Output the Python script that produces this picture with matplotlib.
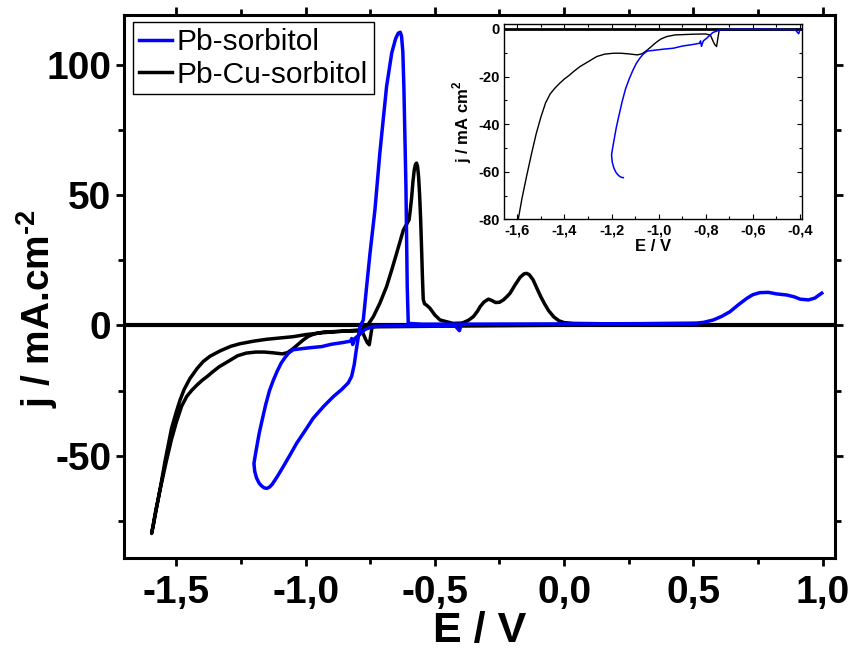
import matplotlib
matplotlib.use("Agg")
import matplotlib.pyplot as plt
from matplotlib.ticker import MultipleLocator, FuncFormatter

plt.rcParams["axes.unicode_minus"] = False
plt.rcParams["mathtext.fontset"] = "custom"
plt.rcParams["mathtext.rm"] = "Liberation Sans:bold"
plt.rcParams["mathtext.bf"] = "Liberation Sans:bold"

# ---- Pb-sorbitol (blue): cathodic sweep then anodic sweep ----
pb_cat_E = [-0.40, -0.405, -0.42, -0.5, -0.6, -0.7, -0.74, -0.77, -0.796, -0.81, -0.818,
            -0.822, -0.826, -0.853, -0.9, -0.938, -0.98, -1.023, -1.048, -1.065, -1.08,
            -1.095, -1.11, -1.125, -1.14, -1.155, -1.17, -1.18, -1.19, -1.197, -1.2]
pb_cat_j = [-0.3, -2.0, -0.3, -0.2, -0.1, -0.2, -0.4, -1.5, -3.9, -5.0, -7.3,
            -5.0, -6.0, -6.5, -7.2, -8.1, -8.5, -9.0, -9.3, -10.5, -12.3,
            -14.5, -17.5, -21.0, -25.0, -30.5, -37.0, -41.5, -47.0, -51.0, -53.0]
pb_an_E = [-1.2, -1.197, -1.19, -1.18, -1.17, -1.16, -1.15, -1.14, -1.13, -1.11,
           -1.087, -1.06, -1.035, -1.0, -0.971, -0.93, -0.893, -0.86, -0.835, -0.822,
           -0.812, -0.805, -0.798, -0.79, -0.777, -0.765, -0.751, -0.732, -0.713, -0.687,
           -0.667, -0.652, -0.642, -0.634, -0.629, -0.624, -0.62, -0.612, -0.607, -0.603,
           -0.55, -0.4, 0.0, 0.3, 0.5, 0.54, 0.577, 0.61, 0.642, 0.675, 0.707, 0.73,
           0.758, 0.79, 0.823, 0.861, 0.89, 0.913, 0.945, 0.97, 0.997]
pb_an_j = [-53.0, -56.0, -58.5, -60.5, -61.6, -62.3, -62.5, -62.0, -61.0, -58.0,
           -54.2, -49.6, -45.2, -40.0, -35.6, -31.0, -27.3, -24.5, -22.0, -19.5,
           -15.0, -10.0, -5.5, -0.5, 2.1, 14.0, 27.7, 44.3, 66.1, 91.6,
           104.5, 110.0, 112.1, 112.5, 111.0, 105.0, 91.6, 53.3, 14.9, 0.8,
           0.5, 0.5, 0.6, 0.7, 0.8, 1.2, 2.1, 3.5, 5.3, 8.0, 10.4, 11.8,
           12.6, 12.7, 12.1, 11.7, 11.0, 10.1, 9.8, 10.5, 12.4]

# ---- Pb-Cu-sorbitol (black) ----
pbcu_cat_E = [0.5, 0.0, -0.4, -0.6, -0.72, -0.743, -0.754, -0.762, -0.768, -0.78, -0.80,
              -0.853, -0.93, -0.966, -0.99, -1.01, -1.03, -1.05, -1.07, -1.09, -1.125,
              -1.16, -1.193, -1.23, -1.263, -1.30, -1.334, -1.36, -1.38, -1.40, -1.42,
              -1.44, -1.46, -1.48, -1.50, -1.52, -1.54, -1.56, -1.58, -1.596]
pbcu_cat_j = [0.3, 0.1, -0.2, -0.4, -0.5, -0.6, -7.4, -6.5, -5.3, -2.6, -2.1,
              -2.2, -2.5, -3.2, -4.2, -5.6, -7.3, -9.0, -10.4, -10.9, -10.5,
              -10.2, -10.2, -10.6, -11.6, -13.8, -15.8, -17.8, -19.5, -21.0, -22.8,
              -24.8, -27.2, -31.0, -37.0, -44.0, -52.5, -61.5, -71.0, -79.8]
pbcu_an_E = [-1.596, -1.59, -1.575, -1.56, -1.544, -1.53, -1.519, -1.50, -1.486, -1.47,
             -1.448, -1.42, -1.396, -1.37, -1.332, -1.29, -1.254, -1.2, -1.151, -1.1,
             -1.048, -1.0, -0.945, -0.9, -0.841, -0.79, -0.775, -0.764, -0.738, -0.713,
             -0.687, -0.667, -0.648, -0.622, -0.60, -0.596, -0.59, -0.585, -0.58, -0.575,
             -0.571, -0.567, -0.563, -0.559, -0.555, -0.551, -0.548, -0.545, -0.54, -0.532,
             -0.519, -0.50, -0.48, -0.43, -0.40, -0.39, -0.37, -0.351, -0.335, -0.325,
             -0.31, -0.293, -0.28, -0.265, -0.25, -0.235, -0.22, -0.209, -0.19, -0.17,
             -0.155, -0.145, -0.135, -0.12, -0.105, -0.09, -0.075, -0.06, -0.04, -0.02,
             0.0, 0.036, 0.2, 0.5]
pbcu_an_j = [-79.8, -77.0, -69.0, -61.0, -52.0, -45.0, -39.5, -33.0, -28.6, -24.5,
             -20.4, -16.5, -13.8, -11.8, -9.8, -8.0, -7.0, -6.0, -5.3, -4.8,
             -4.3, -3.5, -2.9, -2.5, -2.1, -1.7, -1.0, -0.5, 3.4, 8.5,
             14.9, 21.3, 27.7, 36.6, 40.5, 43.5, 49.0, 55.0, 59.5, 61.8,
             62.3, 61.0, 57.0, 50.0, 40.5, 28.0, 18.0, 10.0, 8.3, 7.8,
             6.6, 4.0, 2.1, 0.8, 0.9, 1.1, 2.0, 3.4, 5.5, 7.2,
             9.0, 10.1, 9.6, 8.8, 8.9, 9.8, 11.2, 12.4, 15.5, 18.5,
             19.8, 20.0, 19.5, 17.5, 14.2, 11.0, 8.2, 5.7, 3.3, 1.8,
             1.1, 0.8, 0.6, 0.8]

labels = ["Pb-sorbitol", "Pb-Cu-sorbitol"]
main_xticks = [-1.5, -1.0, -0.5, 0.0, 0.5, 1.0]
main_yticks = [-50, 0, 50, 100]
inset_xticks = [-1.6, -1.4, -1.2, -1.0, -0.8, -0.6, -0.4]
inset_yticks = [-80, -60, -40, -20, 0]

BLUE = "#0000ff"
FONT = "Liberation Sans"

def comma(v, pos):
    s = "%.1f" % v
    if s == "-0.0":
        s = "0.0"
    return s.replace(".", ",")

fig = plt.figure(figsize=(8.52, 6.55), dpi=100)
ax = fig.add_axes([0.1455, 0.1481, 0.8345, 0.829])

pb_E = pb_cat_E + pb_an_E
pb_j = pb_cat_j + pb_an_j
pbcu_E = pbcu_cat_E + pbcu_an_E
pbcu_j = pbcu_cat_j + pbcu_an_j

ax.axhline(0, color="black", lw=3.0, zorder=1)
ax.plot(pb_E, pb_j, color=BLUE, lw=2.5, label=labels[0], zorder=3)
ax.plot(pbcu_E, pbcu_j, color="black", lw=2.5, label=labels[1], zorder=2)

ax.set_xlim(-1.703, 1.048)
ax.set_ylim(-89.2, 119.1)
ax.xaxis.set_major_locator(plt.FixedLocator(main_xticks))
ax.xaxis.set_minor_locator(MultipleLocator(0.25))
ax.yaxis.set_major_locator(plt.FixedLocator(main_yticks))
ax.yaxis.set_minor_locator(MultipleLocator(25))
ax.xaxis.set_major_formatter(FuncFormatter(comma))
ax.tick_params(which="both", direction="out", top=True, right=True, width=2)
ax.tick_params(which="major", length=6)
ax.tick_params(which="minor", length=4)
for sp in ax.spines.values():
    sp.set_linewidth(2.2)
for lab in ax.get_xticklabels() + ax.get_yticklabels():
    lab.set_family(FONT)
    lab.set_fontweight("bold")
    lab.set_fontsize(28)
ax.tick_params(axis="x", pad=6)
ax.tick_params(axis="y", pad=3)
ax.set_xlabel("E / V", fontsize=31, fontweight="bold", family=FONT, labelpad=0)
ax.set_ylabel(r"j / mA.cm$^{\text{-2}}$", fontsize=28, fontweight="bold",
              family=FONT)
ax.yaxis.set_label_coords(-0.09, 0.46)

leg = ax.legend(loc="upper left", handlelength=1.1, handletextpad=0.15,
                borderpad=0.2, labelspacing=0.15, fancybox=False, framealpha=1,
                edgecolor="black", bbox_to_anchor=(0.0127, 0.987), borderaxespad=0,
                prop={"family": FONT, "size": 21.5})
leg.get_frame().set_linewidth(1.0)

# ---- inset ----
ins = fig.add_axes([0.5915, 0.6652, 0.3501, 0.2982])
ins.axhline(0, color="black", lw=2.0, zorder=1)
n_turn = 7
ins.plot(pb_cat_E + pb_an_E[:n_turn], pb_cat_j + pb_an_j[:n_turn], color=BLUE, lw=1.1, zorder=3)
ins.plot(pbcu_cat_E, pbcu_cat_j, color="black", lw=1.0, zorder=2)
ins.set_xlim(-1.657, -0.39)
ins.set_ylim(-80, 2.1)
ins.xaxis.set_major_locator(plt.FixedLocator(inset_xticks))
ins.xaxis.set_minor_locator(MultipleLocator(0.1))
ins.yaxis.set_major_locator(plt.FixedLocator(inset_yticks))
ins.yaxis.set_minor_locator(MultipleLocator(10))
ins.xaxis.set_major_formatter(FuncFormatter(comma))
ins.tick_params(which="both", direction="in", top=True, right=True, width=0.8,
                labelsize=10.5, pad=3)
ins.tick_params(which="major", length=3.5)
ins.tick_params(which="minor", length=2)
for sp in ins.spines.values():
    sp.set_linewidth(1.0)
for lab in ins.get_xticklabels() + ins.get_yticklabels():
    lab.set_fontweight("bold")
    lab.set_family(FONT)
ins.set_xlabel("E / V", fontsize=12, fontweight="bold", family=FONT, labelpad=1)
ins.set_ylabel(r"j / mA cm$^\mathbf{2}$", fontsize=12, fontweight="bold",
               family=FONT, labelpad=3)

fig.savefig("out.png", dpi=100)
